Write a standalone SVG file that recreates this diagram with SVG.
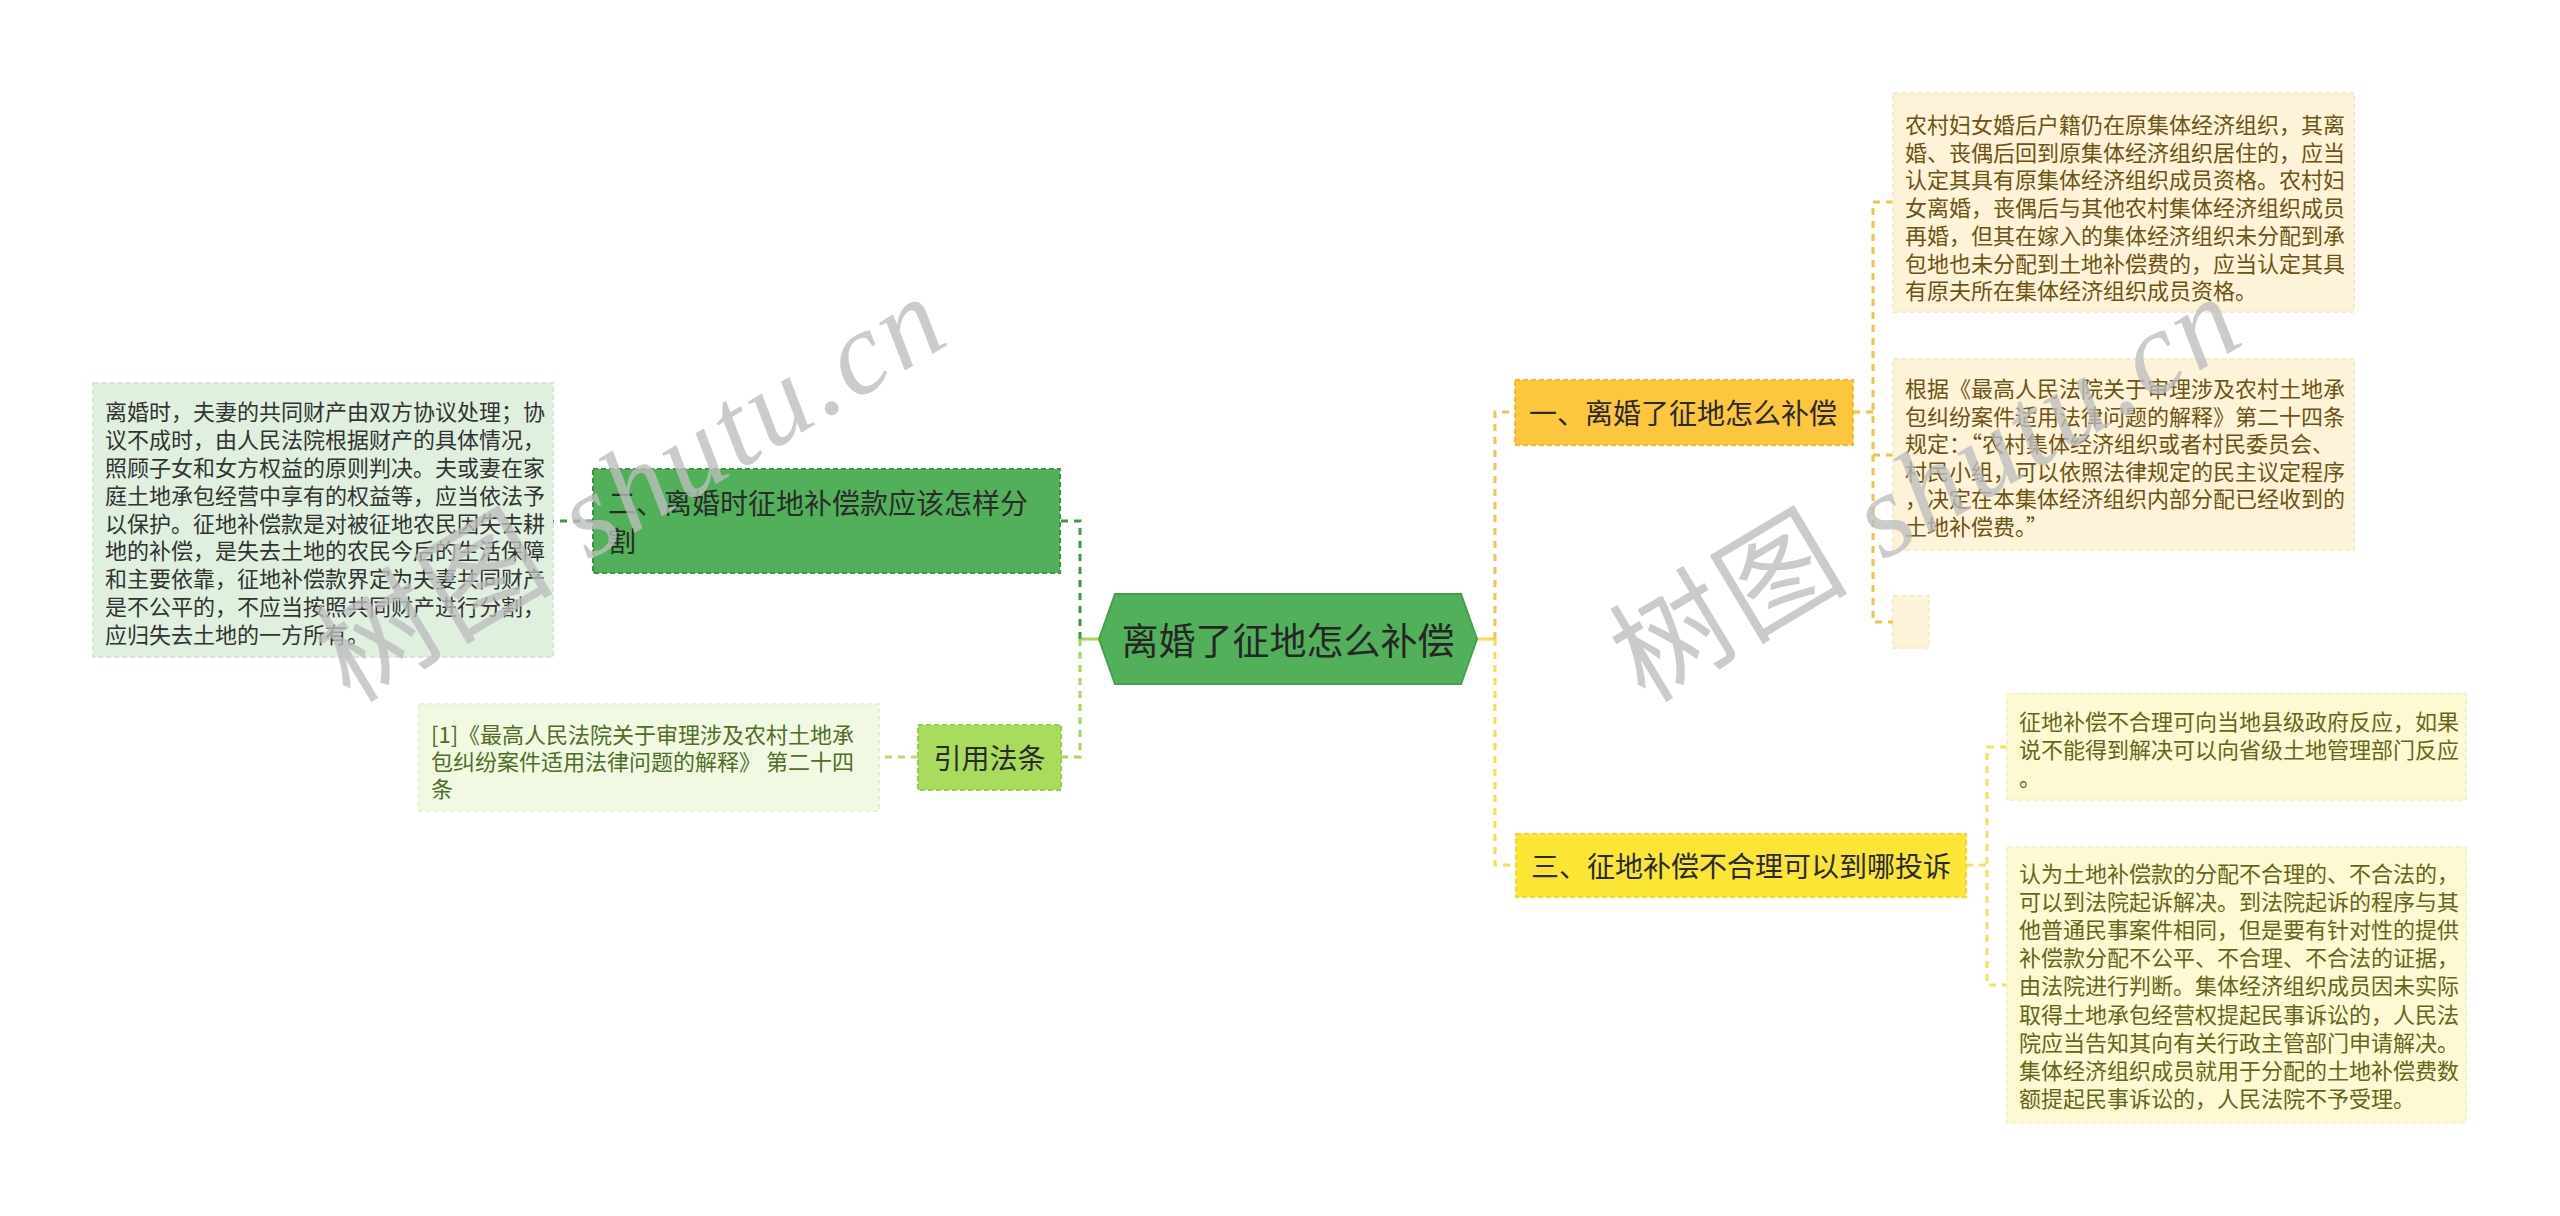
<svg xmlns="http://www.w3.org/2000/svg" width="2560" height="1216" viewBox="0 0 2560 1216">
<style>
text{font-family:"Noto Sans CJK SC","Noto Sans",sans-serif;dominant-baseline:central}
.t22{font-size:22px}
.t28{font-size:28px;fill:#2b2b2b}
.dk{fill:#333}
.gr{fill:#4f6e26}
.br{fill:#6e5414}
.ol{fill:#66661a}
.c{fill:none;stroke-width:3}
.d{stroke-dasharray:7,6}
.wm{font-family:"Liberation Serif","Noto Sans CJK SC",serif;font-size:118px;fill:#bdbdbd;fill-opacity:0.78;dominant-baseline:alphabetic;letter-spacing:4px}
</style>
<rect width="2560" height="1216" fill="#fff"/>
<g id="connectors">
<path class="c" stroke="#a6d65a" d="M1099,639H1080"/>
<path class="c d" stroke="#3d9a4a" d="M1080,639V521H1061"/>
<path class="c d" stroke="#a6d65a" d="M1080,639V757H1061"/>
<path class="c d" stroke="#3d9a4a" stroke-width="2" d="M593,521H553"/>
<path class="c d" stroke="#b5dc78" stroke-width="2" d="M918,757H879"/>
<path class="c" stroke="#f5e04a" d="M1477,639H1495"/>
<path class="c d" stroke="#f2c453" d="M1495,639V412H1515"/>
<path class="c d" stroke="#f5e04a" d="M1495,639V865H1516"/>
<path class="c d" stroke="#f0c24a" stroke-width="2" d="M1853,412H1873M1893,202H1873V622H1893M1873,455H1893"/>
<path class="c d" stroke="#f3e35a" stroke-width="2" d="M1966,865H1987M2007,747H1987V985H2007"/>
</g>
<g id="center">
<polygon points="1115,594 1461,594 1477,639 1461,684 1115,684 1099,639" fill="#52b05a" stroke="#44a04c" stroke-width="2"/>
<text x="1288" y="639" text-anchor="middle" style="font-size:37px;fill:#262626">离婚了征地怎么补偿</text>
</g>
<g id="n2">
<rect x="593" y="469" width="467" height="104" fill="#52b05a" stroke="#3c9445" stroke-width="2" stroke-dasharray="5,3"/>
<text class="t28" x="608" y="502">二、离婚时征地补偿款应该怎样分</text>
<text class="t28" x="608" y="540">割</text>
</g>
<g id="n2c">
<rect x="93" y="383" width="460" height="274" fill="#dff0df" stroke="#d2e8d2" stroke-width="2" stroke-dasharray="5,3"/>
<text class="t22 dk" x="105" y="410">离婚时，夫妻的共同财产由双方协议处理；协</text>
<text class="t22 dk" x="105" y="438">议不成时，由人民法院根据财产的具体情况，</text>
<text class="t22 dk" x="105" y="466">照顾子女和女方权益的原则判决。夫或妻在家</text>
<text class="t22 dk" x="105" y="494">庭土地承包经营中享有的权益等，应当依法予</text>
<text class="t22 dk" x="105" y="522">以保护。征地补偿款是对被征地农民因失去耕</text>
<text class="t22 dk" x="105" y="549">地的补偿，是失去土地的农民今后的生活保障</text>
<text class="t22 dk" x="105" y="577">和主要依靠，征地补偿款界定为夫妻共同财产</text>
<text class="t22 dk" x="105" y="605">是不公平的，不应当按照共同财产进行分割，</text>
<text class="t22 dk" x="105" y="633">应归失去土地的一方所有。</text>
</g>
<g id="ref">
<rect x="918" y="725" width="143" height="65" fill="#a9dc5c" stroke="#95cc48" stroke-width="2" stroke-dasharray="5,3"/>
<text class="t28" x="989.5" y="757" text-anchor="middle">引用法条</text>
</g>
<g id="refc">
<rect x="419" y="704" width="460" height="107" fill="#f1f9e3" stroke="#e6f2d2" stroke-width="2" stroke-dasharray="5,3"/>
<text class="t22 gr" x="431" y="733">[1]《最高人民法院关于审理涉及农村土地承</text>
<text class="t22 gr" x="431" y="760">包纠纷案件适用法律问题的解释》 第二十四</text>
<text class="t22 gr" x="431" y="787">条</text>
</g>
<g id="n1">
<rect x="1515" y="380" width="338" height="65" fill="#fcc63d" stroke="#f2b82e" stroke-width="2" stroke-dasharray="5,3"/>
<text class="t28" x="1529" y="412">一、离婚了征地怎么补偿</text>
</g>
<g id="n1a">
<rect x="1893" y="93" width="461" height="219" fill="#fdf3d8" stroke="#f8ebc8" stroke-width="2" stroke-dasharray="5,3"/>
<text class="t22 br" x="1905" y="123">农村妇女婚后户籍仍在原集体经济组织，其离</text>
<text class="t22 br" x="1905" y="151">婚、丧偶后回到原集体经济组织居住的，应当</text>
<text class="t22 br" x="1905" y="178">认定其具有原集体经济组织成员资格。农村妇</text>
<text class="t22 br" x="1905" y="206">女离婚，丧偶后与其他农村集体经济组织成员</text>
<text class="t22 br" x="1905" y="234">再婚，但其在嫁入的集体经济组织未分配到承</text>
<text class="t22 br" x="1905" y="262">包地也未分配到土地补偿费的，应当认定其具</text>
<text class="t22 br" x="1905" y="289">有原夫所在集体经济组织成员资格。</text>
</g>
<g id="n1b">
<rect x="1893" y="359" width="461" height="191" fill="#fdf3d8" stroke="#f8ebc8" stroke-width="2" stroke-dasharray="5,3"/>
<text class="t22 br" x="1905" y="387">根据《最高人民法院关于审理涉及农村土地承</text>
<text class="t22 br" x="1905" y="415">包纠纷案件适用法律问题的解释》第二十四条</text>
<text class="t22 br" x="1905" y="442">规定：“农村集体经济组织或者村民委员会、</text>
<text class="t22 br" x="1905" y="470">村民小组，可以依照法律规定的民主议定程序</text>
<text class="t22 br" x="1905" y="497">，决定在本集体经济组织内部分配已经收到的</text>
<text class="t22 br" x="1905" y="525">土地补偿费。”</text>
</g>
<g id="n1c">
<rect x="1893" y="596" width="36" height="52" fill="#fdf3d8" stroke="#f8ebc8" stroke-width="2" stroke-dasharray="5,3"/>
</g>
<g id="n3">
<rect x="1516" y="834" width="450" height="63" fill="#fbe635" stroke="#f0d824" stroke-width="2" stroke-dasharray="5,3"/>
<text class="t28" x="1531" y="865">三、征地补偿不合理可以到哪投诉</text>
</g>
<g id="n3a">
<rect x="2007" y="694" width="459" height="106" fill="#fdfad3" stroke="#f6f2c4" stroke-width="2" stroke-dasharray="5,3"/>
<text class="t22 ol" x="2019" y="720">征地补偿不合理可向当地县级政府反应，如果</text>
<text class="t22 ol" x="2019" y="748">说不能得到解决可以向省级土地管理部门反应</text>
<text class="t22 ol" x="2019" y="776">。</text>
</g>
<g id="n3b">
<rect x="2007" y="847" width="459" height="276" fill="#fdfad3" stroke="#f6f2c4" stroke-width="2" stroke-dasharray="5,3"/>
<text class="t22 ol" x="2019" y="872">认为土地补偿款的分配不合理的、不合法的，</text>
<text class="t22 ol" x="2019" y="900">可以到法院起诉解决。到法院起诉的程序与其</text>
<text class="t22 ol" x="2019" y="928">他普通民事案件相同，但是要有针对性的提供</text>
<text class="t22 ol" x="2019" y="956">补偿款分配不公平、不合理、不合法的证据，</text>
<text class="t22 ol" x="2019" y="984">由法院进行判断。集体经济组织成员因未实际</text>
<text class="t22 ol" x="2019" y="1013">取得土地承包经营权提起民事诉讼的，人民法</text>
<text class="t22 ol" x="2019" y="1041">院应当告知其向有关行政主管部门申请解决。</text>
<text class="t22 ol" x="2019" y="1069">集体经济组织成员就用于分配的土地补偿费数</text>
<text class="t22 ol" x="2019" y="1097">额提起民事诉讼的，人民法院不予受理。</text>
</g>
<g id="watermarks">
<text class="wm" transform="translate(350,704) rotate(-31)">树图 <tspan font-style="italic">shutu.cn</tspan></text>
<text class="wm" transform="translate(1645,704) rotate(-31)">树图 <tspan font-style="italic">shutu.cn</tspan></text>
</g>
</svg>
